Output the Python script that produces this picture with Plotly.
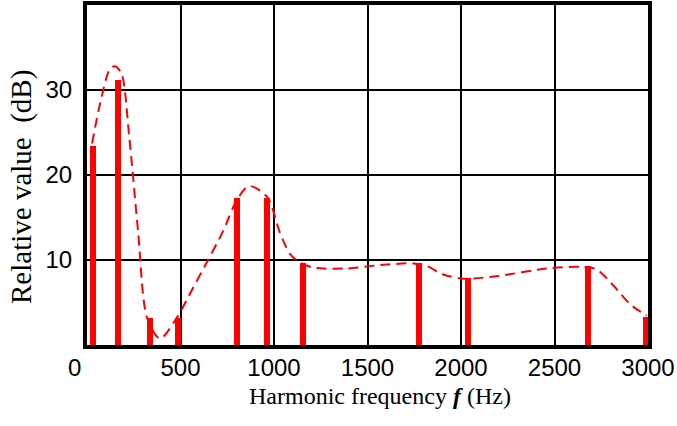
import plotly.graph_objects as go

# Harmonic bars (frequency in Hz, relative value in dB)
harm_freq = [30, 168, 338, 486, 800, 964, 1155, 1777, 2036, 2681, 2987]
harm_val = [23.4, 31.2, 3.2, 3.2, 17.3, 17.3, 9.7, 9.6, 7.9, 9.3, 3.3]

# Dashed envelope curve
env_freq = [27, 70, 123, 150, 185, 225, 273, 321, 390, 480, 569, 640, 728, 800,
            866, 964, 1032, 1086, 1140, 1210, 1389, 1567, 1745, 1816, 1905, 2012,
            2191, 2458, 2636, 2725, 2815, 2904, 2993]
env_val = [23.7, 28.4, 32.5, 32.8, 31.9, 24.7, 13.4, 3.2, 0.75, 3.2, 6.8, 9.7, 13.4, 17.0,
           18.7, 17.4, 13.2, 10.7, 9.7, 9.1, 9.0, 9.4, 9.6, 9.3, 8.3, 7.8,
           8.1, 9.0, 9.2, 8.9, 7.0, 4.8, 3.45]

x_ticks = [500, 1000, 1500, 2000, 2500, 3000]
x_tick_labels = ["500", "1000", "1500", "2000", "2500", "3000"]
y_ticks = [10, 20, 30]
y_tick_labels = ["10", "20", "30"]

tick_font = dict(family="Liberation Sans, Arial", size=24, color="black")
title_font = "Liberation Serif, Times New Roman"

fig = go.Figure()
fig.add_trace(go.Bar(x=harm_freq, y=harm_val, width=32,
                     marker=dict(color="#ff0000", line=dict(width=0)),
                     showlegend=False))
fig.add_trace(go.Scatter(x=env_freq, y=env_val, mode="lines",
                         line=dict(color="#ff0000", width=2, dash="10px,6px", shape="spline", smoothing=0.8),
                         showlegend=False))

fig.update_layout(
    width=677, height=426,
    margin=dict(l=87, r=29, t=5, b=81),
    paper_bgcolor="white", plot_bgcolor="white",
    bargap=0,
    xaxis=dict(range=[0, 3000], tickvals=x_ticks, ticktext=x_tick_labels,
               showgrid=True, gridcolor="black", gridwidth=1.5,
               showline=True, linecolor="black", linewidth=4, mirror=True,
               ticks="", ticklabelstandoff=-2,
               tickfont=tick_font, automargin=False, zeroline=False),
    yaxis=dict(range=[0, 40], tickvals=y_ticks, ticktext=y_tick_labels,
               showgrid=True, gridcolor="black", gridwidth=1.5,
               showline=True, linecolor="black", linewidth=4, mirror=True,
               ticks="", ticklabelstandoff=6,
               tickfont=tick_font, automargin=False, zeroline=False),
    annotations=[
        dict(text="0", x=0, y=0, xref="x", yref="y", xanchor="center", yanchor="middle",
             xshift=-13, yshift=-22, showarrow=False, font=tick_font),
        dict(text="Harmonic frequency <b><i>f</i></b> (Hz)", x=380, y=396,
             xref="paper", yref="paper", showarrow=False,
             xanchor="center", yanchor="middle",
             font=dict(family=title_font, size=24, color="black")),
        dict(text="Relative value  (dB)", x=21, y=187,
             xref="paper", yref="paper", showarrow=False, textangle=-90,
             xanchor="center", yanchor="middle",
             font=dict(family=title_font, size=29, color="black")),
    ],
)

# convert pixel positions of titles into paper coordinates
plot_w = 677 - 87 - 29
plot_h = 426 - 5 - 81
for ann in fig.layout.annotations:
    if ann.xref == "paper":
        px, py = ann.x, ann.y
        ann.x = (px - 87) / plot_w
        ann.y = (426 - 81 - py) / plot_h

fig.write_html("out.html", config={"displayModeBar": False})

# remove the default page margin so the figure fills the window exactly
with open("out.html", encoding="utf-8") as fh:
    html = fh.read()
html = html.replace("<body>", '<body style="margin:0;padding:0;overflow:hidden">', 1)
with open("out.html", "w", encoding="utf-8") as fh:
    fh.write(html)
